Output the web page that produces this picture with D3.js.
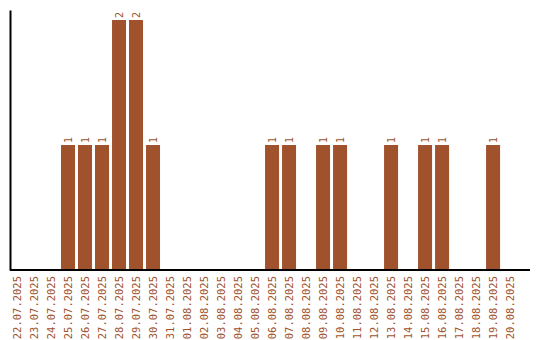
<!DOCTYPE html>
<meta charset="utf-8">
<style>
body { margin: 0; background: #fff; }
.bar { fill: #a0522d; }
.axis path { stroke: #000; stroke-width: 2px; }
.axis text { fill: #a0522d; font-family: "DejaVu Sans Mono", monospace; font-size: 10.5px; }
.val { fill: #a0522d; font-family: "DejaVu Sans Mono", monospace; font-size: 10px; }
</style>
<svg width="540" height="340"></svg>
<script src="https://cdn.jsdelivr.net/npm/d3@7"></script>
<script>
// dates and counts
var dates = ["22.07.2025","23.07.2025","24.07.2025","25.07.2025","26.07.2025","27.07.2025",
  "28.07.2025","29.07.2025","30.07.2025","31.07.2025","01.08.2025","02.08.2025","03.08.2025",
  "04.08.2025","05.08.2025","06.08.2025","07.08.2025","08.08.2025","09.08.2025","10.08.2025",
  "11.08.2025","12.08.2025","13.08.2025","14.08.2025","15.08.2025","16.08.2025","17.08.2025",
  "18.08.2025","19.08.2025","20.08.2025"];
var counts = [0,0,0,1,1,1,2,2,1,0,0,0,0,0,0,1,1,0,1,1,0,0,1,0,1,1,0,0,1,0];

var svg = d3.select("svg"),
    padL = 10, padR = 530, padT = 10, padB = 270;

var x = d3.scaleBand()
    .domain(dates)
    .range([padL, padR])
    .paddingInner(0.176)
    .paddingOuter(0.38)
    .align(0);

var y = d3.scaleLinear()
    .domain([0, d3.max(counts) * 1.04])
    .range([padB, padT]);

var data = dates.map(function(d, i) { return {date: d, count: counts[i]}; })
    .filter(function(d) { return d.count > 0; });

// bars
svg.selectAll(".bar")
    .data(data)
    .enter().append("rect")
    .attr("class", "bar")
    .attr("x", function(d) { return x(d.date); })
    .attr("y", function(d) { return y(d.count); })
    .attr("width", x.bandwidth())
    .attr("height", function(d) { return padB - y(d.count); });

// value labels
svg.selectAll(".val")
    .data(data)
    .enter().append("text")
    .attr("class", "val")
    .attr("transform", function(d) {
      return "translate(" + (x(d.date) + x.bandwidth() / 2 + 3.5) + "," + (y(d.count) - 2) + ") rotate(-90)";
    })
    .text(function(d) { return d.count; });

// x axis
var xa = svg.append("g")
    .attr("class", "axis")
    .attr("transform", "translate(0," + padB + ")")
    .call(d3.axisBottom(x).tickSize(0).tickSizeOuter(0));
xa.select(".domain").attr("d", "M" + padL + ",0H" + padR);
xa.selectAll("text")
    .attr("transform", "rotate(-90)")
    .attr("text-anchor", "end")
    .attr("x", -6)
    .attr("y", 0)
    .attr("dy", "0.35em");

// y axis
svg.append("g")
    .attr("class", "axis")
    .attr("transform", "translate(" + padL + ",0)")
    .call(d3.axisLeft(y).tickValues([]).tickSizeOuter(0));
</script>
